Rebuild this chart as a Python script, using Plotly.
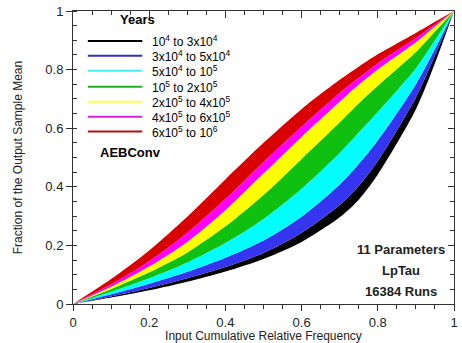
import plotly.graph_objects as go

# ---- data ----
x_freq = [0, 0.1, 0.2, 0.3, 0.4, 0.5, 0.6, 0.7, 0.75, 0.8, 0.9, 0.95, 1.0]
# band boundaries, from top (upper edge of red) to bottom (lower edge of black)
b0 = [0, 0.085, 0.183, 0.298, 0.425, 0.550, 0.665, 0.765, 0.810, 0.852, 0.925, 0.963, 1.0]
b1 = [0, 0.067, 0.146, 0.243, 0.358, 0.485, 0.605, 0.720, 0.772, 0.822, 0.908, 0.954, 1.0]
b2 = [0, 0.059, 0.128, 0.212, 0.320, 0.445, 0.570, 0.690, 0.748, 0.800, 0.893, 0.947, 1.0]
b3 = [0, 0.051, 0.108, 0.176, 0.265, 0.372, 0.495, 0.620, 0.685, 0.745, 0.860, 0.930, 1.0]
b4 = [0, 0.042, 0.088, 0.142, 0.208, 0.290, 0.393, 0.515, 0.585, 0.655, 0.805, 0.900, 1.0]
b5 = [0, 0.033, 0.069, 0.110, 0.158, 0.217, 0.298, 0.408, 0.478, 0.558, 0.750, 0.870, 1.0]
b6 = [0, 0.026, 0.055, 0.088, 0.126, 0.174, 0.243, 0.338, 0.403, 0.488, 0.705, 0.848, 1.0]
b7 = [0, 0.022, 0.047, 0.076, 0.111, 0.154, 0.212, 0.296, 0.356, 0.442, 0.665, 0.822, 1.0]

legend_labels = [
    "10<sup>4</sup> to 3x10<sup>4</sup>",
    "3x10<sup>4</sup> to 5x10<sup>4</sup>",
    "5x10<sup>4</sup> to 10<sup>5</sup>",
    "10<sup>5</sup> to 2x10<sup>5</sup>",
    "2x10<sup>5</sup> to 4x10<sup>5</sup>",
    "4x10<sup>5</sup> to 6x10<sup>5</sup>",
    "6x10<sup>5</sup> to 10<sup>6</sup>",
]
band_colors = ["#000000", "#3535f0", "#00ffff", "#10c010", "#ffff00", "#ff00ff", "#d80000"]
legend_line_colors = ["#000000", "#3030c8", "#40f0f0", "#20b020", "#ffff40", "#e020e0", "#b01010"]
info_lines = ["11 Parameters", "LpTau", "16384 Runs"]

FONT = "Liberation Sans, Arial, sans-serif"

fig = go.Figure()
bounds_bottom_up = [b7, b6, b5, b4, b3, b2, b1, b0]
fig.add_trace(go.Scatter(x=x_freq, y=bounds_bottom_up[0], mode="lines",
                         line=dict(width=0, shape="spline", smoothing=0.8),
                         showlegend=False, hoverinfo="skip"))
for i in range(7):
    fig.add_trace(go.Scatter(x=x_freq, y=bounds_bottom_up[i + 1], mode="lines",
                             line=dict(width=0, shape="spline", smoothing=0.8),
                             fill="tonexty", fillcolor=band_colors[i],
                             showlegend=False, hoverinfo="skip"))

# invisible trace for mirrored axes
fig.add_trace(go.Scatter(x=[0, 1], y=[0, 1], xaxis="x2", yaxis="y2", mode="markers",
                         marker=dict(opacity=0), showlegend=False, hoverinfo="skip"))

W, H = 462, 343
ml, mr, mt, mb = 73, 4, 10, 39
pw, ph = W - ml - mr, H - mt - mb

def px2x(px):
    return (px - ml) / pw

def py2y(py):
    return (H - mb - py) / ph

annotations = []
shapes = []
annotations.append(dict(x=px2x(138), y=py2y(19), xref="paper", yref="paper",
                        text="<b>Years</b>", showarrow=False,
                        font=dict(family=FONT, size=13, color="#000"),
                        xanchor="center", yanchor="middle"))
ys = [40, 55, 70, 86, 101, 116, 131]
for lab, col, yy in zip(legend_labels, legend_line_colors, ys):
    shapes.append(dict(type="line", xref="paper", yref="paper",
                       x0=px2x(88), x1=px2x(143), y0=py2y(yy), y1=py2y(yy),
                       line=dict(color=col, width=2)))
    annotations.append(dict(x=px2x(151), y=py2y(yy), xref="paper", yref="paper",
                            text=lab, showarrow=False,
                            font=dict(family=FONT, size=12, color="#000"),
                            xanchor="left", yanchor="middle"))
annotations.append(dict(x=px2x(131), y=py2y(152), xref="paper", yref="paper",
                        text="<b>AEBConv</b>", showarrow=False,
                        font=dict(family=FONT, size=13, color="#000"),
                        xanchor="center", yanchor="middle"))
for t, yy in zip(info_lines, [249, 270, 291]):
    annotations.append(dict(x=px2x(404), y=py2y(yy), xref="paper", yref="paper",
                            text="<b>" + t + "</b>", showarrow=False,
                            font=dict(family=FONT, size=13, color="#222"),
                            xanchor="center", yanchor="middle"))

axis_common = dict(range=[0, 1], showgrid=False, zeroline=False, showline=True,
                   linecolor="#333", linewidth=1, tickcolor="#333")

fig.update_layout(
    width=W, height=H,
    margin=dict(l=ml, r=mr, t=mt, b=mb),
    paper_bgcolor="white", plot_bgcolor="white",
    font=dict(family=FONT, size=13, color="#222"),
    xaxis=dict(**axis_common, ticks="outside", ticklen=6, tickvals=[0, 0.2, 0.4, 0.6, 0.8, 1],
               ticktext=["0", "0.2", "0.4", "0.6", "0.8", "1"],
               minor=dict(dtick=0.05, ticks="outside", ticklen=4, tickcolor="#333"),
               title=dict(text="Input Cumulative Relative Frequency", font=dict(size=12), standoff=0),
               tickfont=dict(size=13)),
    yaxis=dict(**axis_common, ticks="outside", ticklen=6, tickvals=[0, 0.2, 0.4, 0.6, 0.8, 1],
               ticktext=["0", "0.2", "0.4", "0.6", "0.8", "1"],
               minor=dict(dtick=0.05, ticks="inside", ticklen=4, tickcolor="#333"),
               title=dict(text="Fraction of the Output Sample Mean", font=dict(size=12), standoff=20),
               tickfont=dict(size=13)),
    xaxis2=dict(**axis_common, overlaying="x", side="top", ticks="inside", ticklen=7,
                dtick=0.2, showticklabels=False,
                minor=dict(dtick=0.05, ticks="inside", ticklen=4, tickcolor="#333")),
    yaxis2=dict(**axis_common, overlaying="y", side="right", ticks="inside", ticklen=6,
                dtick=0.2, showticklabels=False,
                minor=dict(dtick=0.05, ticks="inside", ticklen=4, tickcolor="#333")),
    annotations=annotations, shapes=shapes,
)

fig.write_html("out.html")
